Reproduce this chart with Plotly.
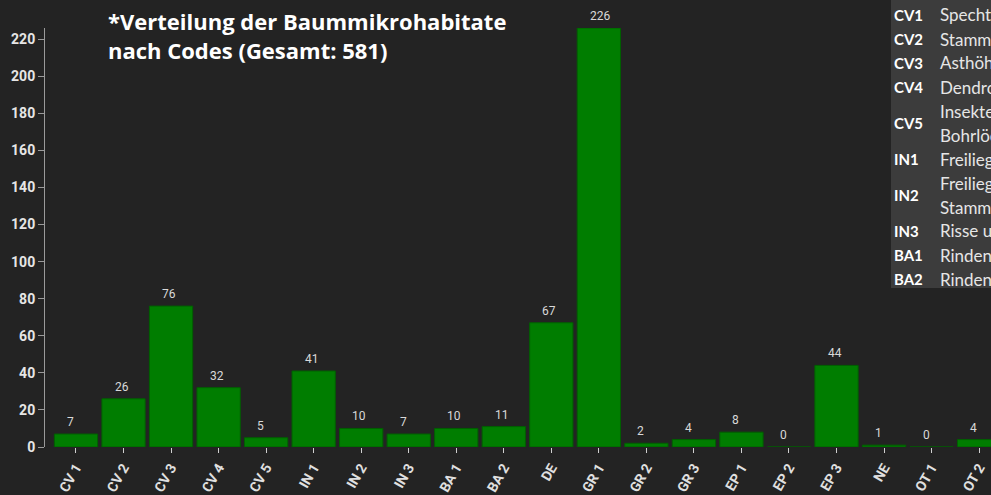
import plotly.graph_objects as go

# ---- data ----
codes = ["CV 1", "CV 2", "CV 3", "CV 4", "CV 5", "IN 1", "IN 2", "IN 3", "BA 1", "BA 2",
         "DE", "GR 1", "GR 2", "GR 3", "EP 1", "EP 2", "EP 3", "NE", "OT 1", "OT 2"]
counts = [7, 26, 76, 32, 5, 41, 10, 7, 10, 11, 67, 226, 2, 4, 8, 0, 44, 1, 0, 4]
y_ticks = [0, 20, 40, 60, 80, 100, 120, 140, 160, 180, 200, 220]

title_lines = ["*Verteilung der Baummikrohabitate", "nach Codes (Gesamt: 581)"]

legend_codes = ["CV1", "CV2", "CV3", "CV4", "CV5", "IN1", "IN2", "IN3", "BA1", "BA2"]
legend_desc = [
    ["Spechthöhlen"],
    ["Stammhöhlen"],
    ["Asthöhlen"],
    ["Dendrotelmen"],
    ["Insektengalerien und", "Bohrlöcher"],
    ["Freiliegendes Splintholz"],
    ["Freiliegendes Splint- und", "Stammholz"],
    ["Risse und Narben"],
    ["Rindentaschen"],
    ["Rindenstruktur"],
]

# ---- layout geometry ----
W, H = 991, 495
ML, MR, MT, MB = 45, 0, 28, 48
PW, PH = W - ML - MR, H - MT - MB
BG = "#232323"


def px_x(px):
    return (px - ML) / PW


def px_y(py):
    return (H - MB - py) / PH


fig = go.Figure()
fig.add_trace(go.Bar(
    x=codes, y=counts,
    marker=dict(color="#007d00", line=dict(color="#006000", width=1)),
    hoverinfo="skip",
))

annotations = []
for c, v in zip(codes, counts):
    annotations.append(dict(
        x=c, y=v, xref="x", yref="y", text=str(v), showarrow=False,
        xanchor="left", yanchor="middle", xshift=-11, yshift=12,
        font=dict(family="Roboto", size=12, color="#d9d9d9"),
    ))

# title
annotations.append(dict(
    x=px_x(106), y=px_y(36), xref="paper", yref="paper",
    text="<b>" + "<br>".join(title_lines) + "</b>", showarrow=False,
    xanchor="left", yanchor="middle", align="left",
    font=dict(family="Open Sans", size=22, color="#ffffff"),
))

# legend table
shapes = [dict(type="rect", xref="paper", yref="paper",
               x0=px_x(891), x1=px_x(1100), y0=px_y(288), y1=px_y(-5),
               fillcolor="#3c3c3c", line=dict(width=0), layer="above")]
line_y = 15
step = 24
for code, desc in zip(legend_codes, legend_desc):
    n = len(desc)
    center = line_y + step * (n - 1) / 2
    annotations.append(dict(
        x=px_x(892), y=px_y(center), xref="paper", yref="paper",
        text="<b>" + code + "</b>", showarrow=False,
        xanchor="left", yanchor="middle",
        font=dict(family="Lato", size=15, color="#ffffff"),
    ))
    for i, d in enumerate(desc):
        annotations.append(dict(
            x=px_x(938), y=px_y(line_y + i * step), xref="paper", yref="paper",
            text=d, showarrow=False, xanchor="left", yanchor="middle",
            font=dict(family="Lato", size=17, color="#e6e6e6"),
        ))
    line_y += step * n

fig.update_layout(
    width=W, height=H, autosize=False,
    margin=dict(l=ML, r=MR, t=MT, b=MB, pad=0, autoexpand=False),
    paper_bgcolor=BG, plot_bgcolor=BG,
    showlegend=False, bargap=0.09,
    annotations=annotations, shapes=shapes,
    xaxis=dict(
        type="category", range=[-0.652, 19.25], automargin=False,
        showline=False, showgrid=False, zeroline=False,
        ticks="outside", ticklen=5, tickwidth=1, tickcolor="#d0d0d0",
        tickangle=-60, ticklabelstandoff=1,
        tickfont=dict(family="Roboto", size=14, color="#e0e0e0", weight="bold"),
    ),
    yaxis=dict(
        range=[0, 226], tickvals=y_ticks, automargin=False,
        showline=True, linecolor="#9a9a9a", linewidth=1,
        showgrid=False, zeroline=False,
        ticks="outside", ticklen=6, tickwidth=1, tickcolor="#9a9a9a",
        tickfont=dict(family="Roboto", size=14, color="#e6e6e6", weight="bold"),
    ),
)

fig.write_html(
    "out.html",
    config={"displayModeBar": False},
    post_script="document.body.style.margin='0px';document.body.style.background='#232323';",
)
